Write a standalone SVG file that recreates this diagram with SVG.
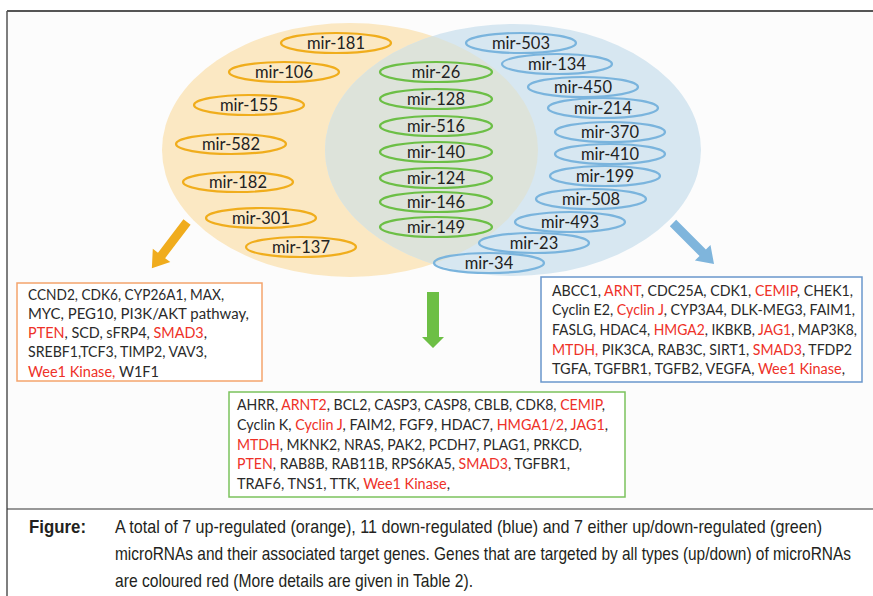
<svg xmlns="http://www.w3.org/2000/svg" width="873" height="596" viewBox="0 0 873 596">
<defs>
<style>
.bg{fill:#ffffff}
.mir{font-family:Lato,"Liberation Sans",sans-serif;font-size:16.5px;fill:#222;text-anchor:middle}
.o{fill:none;stroke:#f0ad1c;stroke-width:2.2}
.g{fill:none;stroke:#6cbf46;stroke-width:2.2}
.b{fill:none;stroke:#7ab4dd;stroke-width:2.2}
.gene{font-family:Lato,"Liberation Sans",sans-serif;font-size:14.5px;fill:#2a2a2a}
.r{fill:#ee3128}
.cap{font-family:"Liberation Sans Narrow","Liberation Sans",sans-serif;font-size:18.5px;fill:#231f20}
.capb{font-family:"Liberation Sans Narrow","Liberation Sans",sans-serif;font-size:18.5px;font-weight:bold;fill:#231f20}
</style>
<clipPath id="clipO"><ellipse cx="350" cy="150" rx="188" ry="127"/></clipPath>
</defs>
<rect class="bg" x="0" y="0" width="873" height="596"/>
<rect x="7" y="11" width="866" height="498" fill="#fcfcfc"/>
<g id="frame" stroke="#555" fill="none">
<line x1="7" y1="11" x2="873" y2="11" stroke-width="2"/>
<line x1="7" y1="11" x2="7" y2="596" stroke-width="1.5"/>
<line x1="7" y1="509" x2="873" y2="509" stroke-width="1.2" stroke="#333"/>
</g>
<g id="venn">
<ellipse id="up-set" cx="350" cy="150" rx="188" ry="127" fill="#fbe8c3"/>
<ellipse id="down-set" cx="513" cy="150" rx="188" ry="126" fill="#d7e7f1"/>
<ellipse cx="513" cy="150" rx="188" ry="126" fill="#dde3da" clip-path="url(#clipO)"/>
</g>
<g id="up-mirnas">
<g id="mir-181"><ellipse class="o" cx="336" cy="43" rx="55" ry="10"/><text class="mir" x="336" y="49">mir-181</text></g>
<g id="mir-106"><ellipse class="o" cx="284" cy="72" rx="55" ry="10"/><text class="mir" x="284" y="78">mir-106</text></g>
<g id="mir-155"><ellipse class="o" cx="249" cy="105" rx="55" ry="10"/><text class="mir" x="249" y="111">mir-155</text></g>
<g id="mir-582"><ellipse class="o" cx="231" cy="144" rx="55" ry="10"/><text class="mir" x="231" y="150">mir-582</text></g>
<g id="mir-182"><ellipse class="o" cx="238" cy="182" rx="55" ry="10"/><text class="mir" x="238" y="188">mir-182</text></g>
<g id="mir-301"><ellipse class="o" cx="261" cy="218" rx="55" ry="10"/><text class="mir" x="261" y="224">mir-301</text></g>
<g id="mir-137"><ellipse class="o" cx="301" cy="247" rx="55" ry="10"/><text class="mir" x="301" y="253">mir-137</text></g>
</g>
<g id="both-mirnas">
<g id="mir-26"><ellipse class="g" cx="436" cy="72" rx="56" ry="10"/><text class="mir" x="436" y="78">mir-26</text></g>
<g id="mir-128"><ellipse class="g" cx="436" cy="99" rx="56" ry="10"/><text class="mir" x="436" y="105">mir-128</text></g>
<g id="mir-516"><ellipse class="g" cx="436" cy="126" rx="56" ry="10"/><text class="mir" x="436" y="132">mir-516</text></g>
<g id="mir-140"><ellipse class="g" cx="436" cy="152" rx="56" ry="10"/><text class="mir" x="436" y="158">mir-140</text></g>
<g id="mir-124"><ellipse class="g" cx="436" cy="178" rx="56" ry="10"/><text class="mir" x="436" y="184">mir-124</text></g>
<g id="mir-146"><ellipse class="g" cx="436" cy="202" rx="56" ry="10"/><text class="mir" x="436" y="208">mir-146</text></g>
<g id="mir-149"><ellipse class="g" cx="436" cy="227" rx="56" ry="10"/><text class="mir" x="436" y="233">mir-149</text></g>
</g>
<g id="down-mirnas">
<g id="mir-503"><ellipse class="b" cx="521" cy="43" rx="55" ry="10"/><text class="mir" x="521" y="49">mir-503</text></g>
<g id="mir-134"><ellipse class="b" cx="557" cy="64" rx="55" ry="10"/><text class="mir" x="557" y="70">mir-134</text></g>
<g id="mir-450"><ellipse class="b" cx="583" cy="87" rx="55" ry="10"/><text class="mir" x="583" y="93">mir-450</text></g>
<g id="mir-214"><ellipse class="b" cx="603" cy="108" rx="55" ry="10"/><text class="mir" x="603" y="114">mir-214</text></g>
<g id="mir-370"><ellipse class="b" cx="610" cy="132" rx="55" ry="10"/><text class="mir" x="610" y="138">mir-370</text></g>
<g id="mir-410"><ellipse class="b" cx="610" cy="154" rx="55" ry="10"/><text class="mir" x="610" y="160">mir-410</text></g>
<g id="mir-199"><ellipse class="b" cx="605" cy="176" rx="55" ry="10"/><text class="mir" x="605" y="182">mir-199</text></g>
<g id="mir-508"><ellipse class="b" cx="591" cy="199" rx="55" ry="10"/><text class="mir" x="591" y="205">mir-508</text></g>
<g id="mir-493"><ellipse class="b" cx="570" cy="222" rx="55" ry="10"/><text class="mir" x="570" y="228">mir-493</text></g>
<g id="mir-23"><ellipse class="b" cx="534" cy="243" rx="55" ry="10"/><text class="mir" x="534" y="249">mir-23</text></g>
<g id="mir-34"><ellipse class="b" cx="489" cy="263" rx="55" ry="10"/><text class="mir" x="489" y="269">mir-34</text></g>
</g>
<g id="connectors">
<polygon fill="#f0ac1d" transform="translate(187,222) rotate(127.3)" points="0,-4.5 42,-4.5 42,-11 58,0 42,11 42,4.5 0,4.5"/>
<polygon fill="#6dbf45" points="427,292 439,292 439,337 444,337 433,348 422,337 427,337"/>
<polygon fill="#7fb5dc" transform="translate(673,223) rotate(45)" points="0,-4.5 42,-4.5 42,-11 58,0 42,11 42,4.5 0,4.5"/>
</g>
<g id="up-targets">
<rect x="17" y="283" width="245" height="98" fill="#fff" stroke="#f4a46c" stroke-width="1.5"/>
<text class="gene" x="28" y="300" textLength="196" lengthAdjust="spacingAndGlyphs">CCND2, CDK6, CYP26A1, MAX,</text>
<text class="gene" x="28" y="319" textLength="221" lengthAdjust="spacingAndGlyphs">MYC, PEG10, PI3K/AKT pathway,</text>
<text class="gene" x="28" y="338" textLength="179" lengthAdjust="spacingAndGlyphs"><tspan class="r">PTEN</tspan>, SCD, sFRP4, <tspan class="r">SMAD3</tspan>,</text>
<text class="gene" x="28" y="357" textLength="179" lengthAdjust="spacingAndGlyphs">SREBF1,TCF3, TIMP2, VAV3,</text>
<text class="gene" x="28" y="377" textLength="131" lengthAdjust="spacingAndGlyphs"><tspan class="r">Wee1 Kinase,</tspan> W1F1</text>
</g>
<g id="down-targets">
<rect x="541" y="277" width="321" height="105" fill="#fff" stroke="#6a97cc" stroke-width="1.5"/>
<text class="gene" x="552" y="296" textLength="301" lengthAdjust="spacingAndGlyphs">ABCC1, <tspan class="r">ARNT</tspan>, CDC25A, CDK1, <tspan class="r">CEMIP</tspan>, CHEK1,</text>
<text class="gene" x="552" y="315" textLength="303" lengthAdjust="spacingAndGlyphs">Cyclin E2, <tspan class="r">Cyclin J</tspan>, CYP3A4, DLK-MEG3, FAIM1,</text>
<text class="gene" x="552" y="335" textLength="305" lengthAdjust="spacingAndGlyphs">FASLG, HDAC4, <tspan class="r">HMGA2</tspan>, IKBKB, <tspan class="r">JAG1</tspan>, MAP3K8,</text>
<text class="gene" x="552" y="355" textLength="300" lengthAdjust="spacingAndGlyphs"><tspan class="r">MTDH,</tspan> PIK3CA, RAB3C, SIRT1, <tspan class="r">SMAD3</tspan>, TFDP2</text>
<text class="gene" x="552" y="374" textLength="293" lengthAdjust="spacingAndGlyphs">TGFA, TGFBR1, TGFB2, VEGFA, <tspan class="r">Wee1 Kinase</tspan>,</text>
</g>
<g id="both-targets">
<rect x="229" y="392" width="396" height="105" fill="#fff" stroke="#7bc25c" stroke-width="1.5"/>
<text class="gene" x="237" y="410" textLength="368" lengthAdjust="spacingAndGlyphs">AHRR, <tspan class="r">ARNT2</tspan>, BCL2, CASP3, CASP8, CBLB, CDK8, <tspan class="r">CEMIP</tspan>,</text>
<text class="gene" x="237" y="430" textLength="371" lengthAdjust="spacingAndGlyphs">Cyclin K, <tspan class="r">Cyclin J</tspan>, FAIM2, FGF9, HDAC7, <tspan class="r">HMGA1/2</tspan>, <tspan class="r">JAG1</tspan>,</text>
<text class="gene" x="237" y="450" textLength="345" lengthAdjust="spacingAndGlyphs"><tspan class="r">MTDH</tspan>, MKNK2, NRAS, PAK2, PCDH7, PLAG1, PRKCD,</text>
<text class="gene" x="237" y="469" textLength="333" lengthAdjust="spacingAndGlyphs"><tspan class="r">PTEN</tspan>, RAB8B, RAB11B, RPS6KA5, <tspan class="r">SMAD3</tspan>, TGFBR1,</text>
<text class="gene" x="237" y="489" textLength="213" lengthAdjust="spacingAndGlyphs">TRAF6, TNS1, TTK, <tspan class="r">Wee1 Kinase</tspan>,</text>
</g>
<g id="caption">
<text class="capb" x="29" y="533" textLength="57" lengthAdjust="spacingAndGlyphs">Figure:</text>
<text class="cap" x="115" y="533" textLength="707" lengthAdjust="spacingAndGlyphs">A total of 7 up-regulated (orange), 11 down-regulated (blue) and 7 either up/down-regulated (green)</text>
<text class="cap" x="115" y="560" textLength="736" lengthAdjust="spacingAndGlyphs">microRNAs and their associated target genes. Genes that are targeted by all types (up/down) of microRNAs</text>
<text class="cap" x="115" y="587" textLength="358" lengthAdjust="spacingAndGlyphs">are coloured red (More details are given in Table 2).</text>
</g>
</svg>
